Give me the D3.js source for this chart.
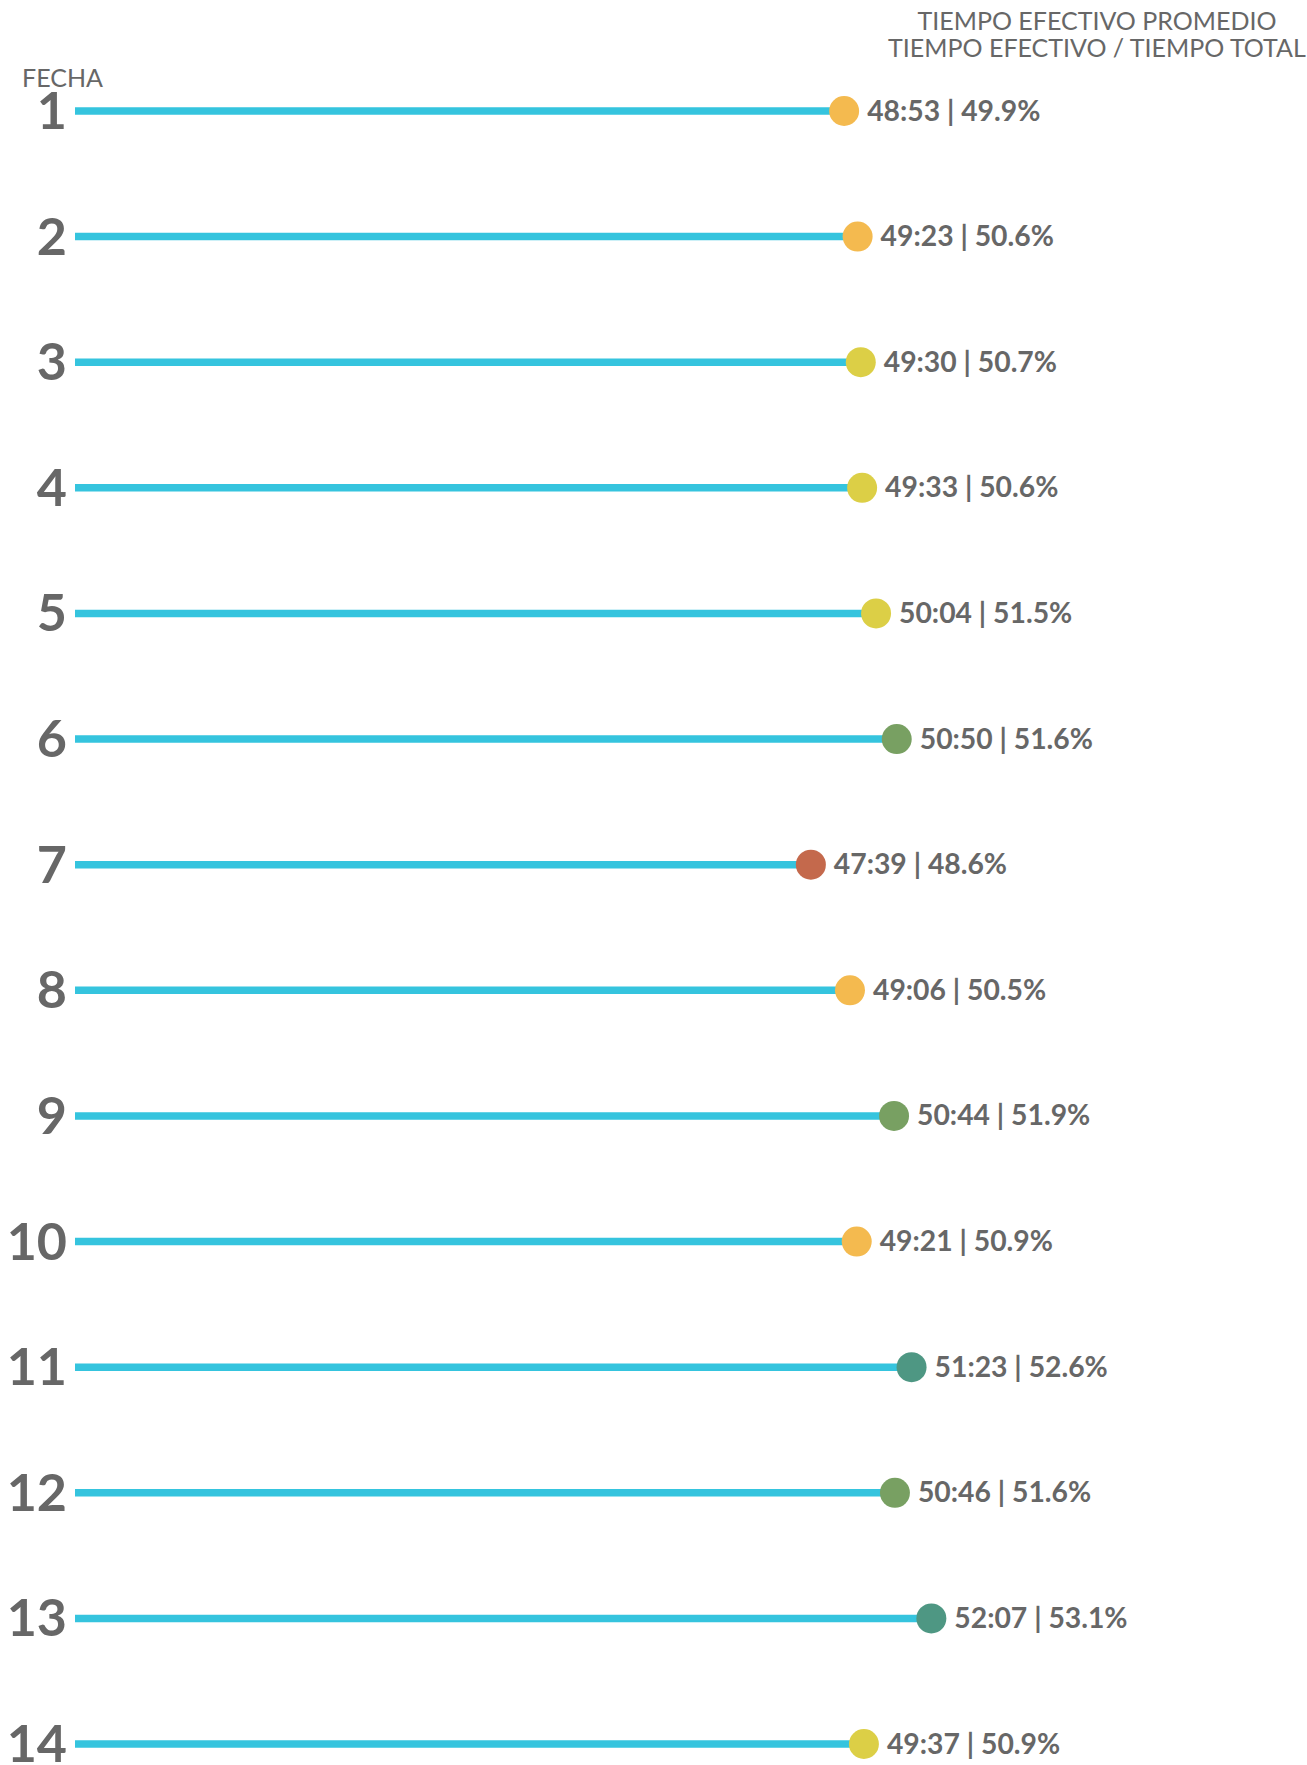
<!DOCTYPE html>
<html>
<head>
<meta charset="utf-8">
<script src="https://cdn.jsdelivr.net/npm/d3@7"></script>
<style>
  html, body { margin: 0; padding: 0; background: #fff; }
  svg { display: block; font-family: Lato, "Open Sans", sans-serif; }
</style>
</head>
<body>
<svg id="chart" width="1307" height="1765"></svg>
<script>
// Fechas del torneo y tiempo efectivo promedio de cada una
const fechas = [1, 2, 3, 4, 5, 6, 7, 8, 9, 10, 11, 12, 13, 14];
const tiempos = ["48:53", "49:23", "49:30", "49:33", "50:04", "50:50", "47:39",
                 "49:06", "50:44", "49:21", "51:23", "50:46", "52:07", "49:37"];
const porcentajes = [49.9, 50.6, 50.7, 50.6, 51.5, 51.6, 48.6,
                     50.5, 51.9, 50.9, 52.6, 51.6, 53.1, 50.9];

const encabezado = ["TIEMPO EFECTIVO PROMEDIO", "TIEMPO EFECTIVO / TIEMPO TOTAL"];
const tituloEje = "FECHA";

// minutos:segundos -> segundos
const aSegundos = s => { const [m, sg] = s.split(":").map(Number); return m * 60 + sg; };

const data = fechas.map((f, i) => ({
  fecha: f,
  tiempo: tiempos[i],
  seg: aSegundos(tiempos[i]),
  pct: porcentajes[i]
}));

const svg = d3.select("#chart");
const gris = "#676767";

const x = d3.scaleLinear().domain([1200, 3600]).range([65, 1144]);
const y = d3.scalePoint().domain(fechas).range([111, 1744]);

// Color del punto según el tiempo efectivo
const color = d3.scaleThreshold()
  .domain([aSegundos("48:00"), aSegundos("49:30"), aSegundos("50:30"), aSegundos("51:00")])
  .range(["#C4694C", "#F4BA4F", "#DCCF46", "#78A062", "#4E9783"]);

// Encabezado
svg.append("text")
  .attr("text-anchor", "middle")
  .attr("fill", gris)
  .attr("font-size", 25)
  .selectAll("tspan")
  .data(encabezado)
  .join("tspan")
  .attr("x", 1097)
  .attr("y", (d, i) => 29.5 + i * 27.8)
  .text(d => d);

svg.append("text")
  .attr("x", 22).attr("y", 86.5)
  .attr("fill", gris)
  .attr("font-size", 25)
  .text(tituloEje);

const filas = svg.append("g").selectAll("g")
  .data(data)
  .join("g")
  .attr("transform", d => `translate(0,${y(d.fecha)})`);

filas.append("line")
  .attr("x1", 75)
  .attr("x2", d => x(d.seg))
  .attr("stroke", "#35C4DE")
  .attr("stroke-width", 7.5);

filas.append("circle")
  .attr("cx", d => x(d.seg))
  .attr("r", 15)
  .attr("fill", d => color(d.seg));

filas.append("text")
  .attr("x", 67)
  .attr("y", 18)
  .attr("text-anchor", "end")
  .attr("fill", gris)
  .attr("font-size", 52)
  .attr("font-weight", 700)
  .text(d => d.fecha);

filas.append("text")
  .attr("x", d => x(d.seg) + 23)
  .attr("y", 9.5)
  .attr("fill", gris)
  .attr("font-size", 28.3)
  .attr("font-weight", 700)
  .text(d => `${d.tiempo} | ${d.pct.toFixed(1)}%`);
</script>
</body>
</html>
